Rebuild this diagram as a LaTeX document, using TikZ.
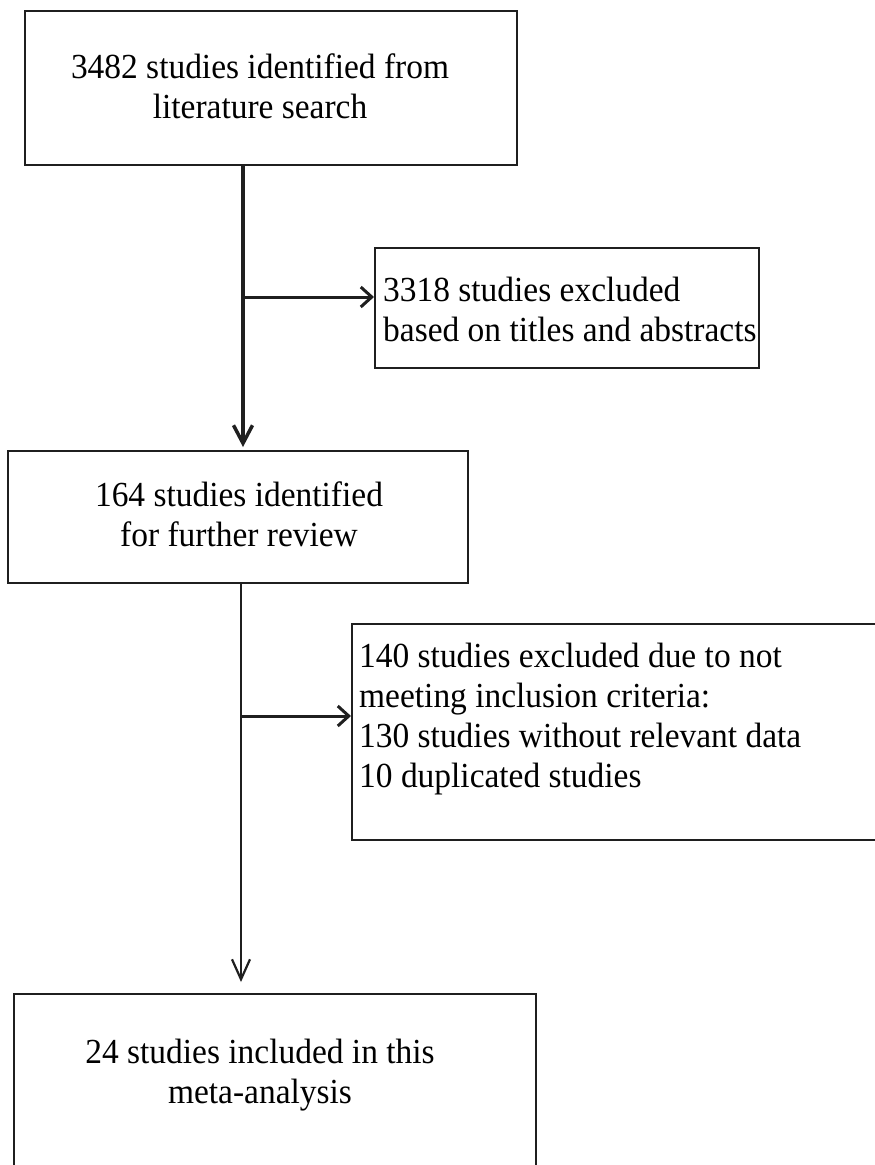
\documentclass[tikz,border=0pt]{standalone}
\usepackage{fontspec}
\setmainfont[FakeStretch=0.95]{Liberation Serif}
\usepackage{tikz}
\usetikzlibrary{arrows.meta}
\usetikzlibrary{calc}
\colorlet{colorLine}{black!88}
\tikzset{
   box/.style={rectangle,draw=colorLine,line width=2pt,inner sep=0pt},
   txt/.style={inner sep=0pt,font=\fontsize{35.2}{40}\selectfont},
   flow/.style={-{Straight Barb[length=18pt,width=19pt]},color=colorLine,line width=3.5pt},
   flowthin/.style={-{Straight Barb[length=20pt,width=18pt]},color=colorLine,line width=2.2pt},
   side/.style={-{Straight Barb[length=11pt,width=20pt]},color=colorLine,line width=3pt},
}

\begin{document}
\begin{tikzpicture}[x=1pt,y=-1pt]
  \path[use as bounding box,clip] (0,0) rectangle (875,1165);

  \node[box,minimum width=492pt,minimum height=154pt] (srch) at (271,88)   {};
  \node[box,minimum width=384pt,minimum height=120pt] (excl) at (567,308)  {};
  \node[box,minimum width=460pt,minimum height=132pt] (rev)  at (238,517)  {};
  \node[box,minimum width=560pt,minimum height=216pt] (crit) at (632,732)  {};
  \node[box,minimum width=522pt,minimum height=200pt] (incl) at (275,1094) {};

  \node[txt,align=center]            (srchtxt) at (260,86)    {3482 studies identified from\\literature search};
  \node[txt,align=left,anchor=west]  (excltxt) at (383,309.5) {3318 studies excluded\\based on titles and abstracts};
  \node[txt,align=center]            (revtxt)  at (239,514.5) {164 studies identified\\for further review};
  \node[txt,align=left,anchor=west]  (crittxt) at (359,719)   {140 studies excluded due to not\\meeting inclusion criteria:\\130 studies without relevant data\\10 duplicated studies};
  \node[txt,align=center]            (incltxt) at (260,1075)  {24 studies included in this\\meta-analysis};

  \coordinate (m1) at (243,297);
  \coordinate (m2) at (241,716);

  \draw[flow,shorten >=3pt]       (srch.south -| m1) -- (rev.north -| m1);
  \draw[side]                     (m1) -- (m1 -| excl.west);
  \draw[flowthin,shorten >=11pt]  (rev.south -| m2)  -- (incl.north -| m2);
  \draw[side]                     (m2) -- (m2 -| crit.west);
\end{tikzpicture}
\end{document}
